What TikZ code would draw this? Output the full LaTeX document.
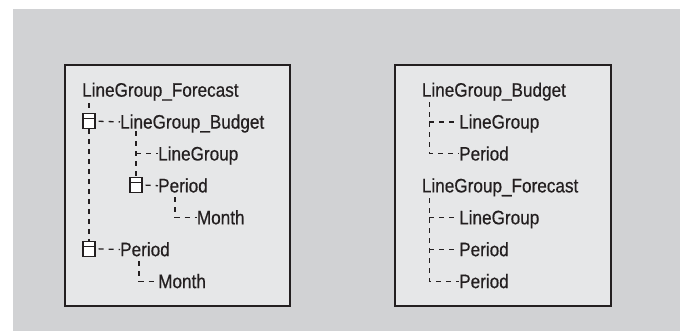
\documentclass[tikz,border=0pt]{standalone}
\usepackage{fontspec}
\setmainfont{Liberation Sans}[FakeStretch=0.88,FakeBold=0.5]
\usetikzlibrary{calc}
\definecolor{ink}{HTML}{231F20}
\definecolor{canvas}{HTML}{D1D2D4}
\definecolor{panel}{HTML}{E6E7E8}
\begin{document}
\begin{tikzpicture}[x=1pt,y=-1pt,
  label/.style={anchor=west, inner sep=0pt, text height=14pt, text depth=0.6pt,
    font=\fontsize{19.5}{21}\selectfont, text=ink},
  icon/.style={draw=ink, fill=white, line width=1.1pt, minimum width=12pt,
    minimum height=15pt, inner sep=0pt,
    path picture={\draw[ink, line width=1pt]
      ([yshift=-5.3pt]path picture bounding box.north west) --
      ([yshift=-5.3pt]path picture bounding box.north east);}},
  conn/.style={draw=ink, line width=1.3pt, dash pattern=on 5pt off 5pt},
  branch/.style={conn, dash phase=7pt},
  panelbox/.style={draw=ink, fill=panel, line width=1.5pt}]
\useasboundingbox (0,0) rectangle (680,331);
\fill[white] (0,0) rectangle (680,331);
\fill[canvas] (13,9) rectangle (680,331);

% two panels
\draw[panelbox] (65,65) rectangle (290,306);
\draw[panelbox] (395,65) rectangle (611,306);

% ---- nested tree (left panel)
\node[label] (t1) at (82,90) {LineGroup\_Forecast};
\node[icon]  (i2) at (89,121.2) {};
\node[label] (t2) at (120,121.9) {LineGroup\_Budget};
\node[label] (t3) at (158,153.8) {LineGroup};
\node[icon]  (i4) at (136,185) {};
\node[label] (t4) at (158,185.7) {Period};
\node[label] (t5) at (196.7,217.6) {Month};
\node[icon]  (i6) at (89,248.8) {};
\node[label] (t6) at (120,249.5) {Period};
\node[label] (t7) at (158,281.4) {Month};

% start points of the vertical guides, just below each parent label
\coordinate (u1) at ([yshift=-6pt]t1.south west);
\coordinate (u2) at ([yshift=-2pt]t2.south west);
\coordinate (u4) at ([xshift=17pt,yshift=-4pt]t4.south west);
\coordinate (u6) at ([xshift=19pt,yshift=-4pt]t6.south west);

\draw[conn] (i2.north |- u1) -- (i2.north);
\draw[conn] (i2.south) -- (i6.north);
\draw[branch] (i2.east) -- (t2.west);
\draw[conn] (i4.north |- u2) -- (i4.north);
\draw[conn] (i4.north |- t3.west) -- (t3.west);
\draw[branch] (i4.east) -- (t4.west);
\draw[conn] (u4) |- (t5.west);
\draw[branch] (i6.east) -- (t6.west);
\draw[conn] (u6) |- (t7.west);

% ---- flat lists (right panel)
\node[label] (r1) at (421.7,90) {LineGroup\_Budget};
\node[label] (r2) at (459,121.9) {LineGroup};
\node[label] (r3) at (459,153.8) {Period};
\node[label] (r4) at (421.7,185.7) {LineGroup\_Forecast};
\node[label] (r5) at (459,217.6) {LineGroup};
\node[label] (r6) at (459,249.5) {Period};
\node[label] (r7) at (459,281.4) {Period};

\coordinate (rv1) at ([xshift=7.6pt,yshift=-5pt]r1.south west);
\draw[conn] (rv1) |- (r3.west);
\draw[conn] (rv1 |- r2.west) -- (r2.west);

\coordinate (rv4) at ([xshift=7.6pt,yshift=-5pt]r4.south west);
\draw[conn] (rv4) |- (r7.west);
\draw[conn] (rv4 |- r5.west) -- (r5.west);
\draw[conn] (rv4 |- r6.west) -- (r6.west);
\end{tikzpicture}
\end{document}
